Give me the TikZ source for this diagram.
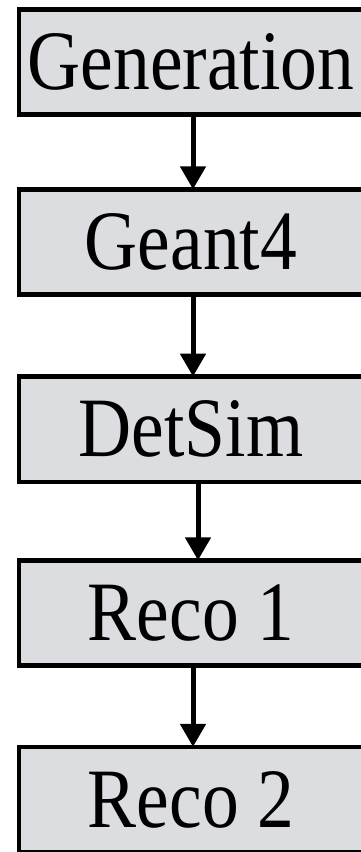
\documentclass[tikz,border=0pt]{standalone}
\usepackage{fontspec}
\setmainfont{Liberation Serif}
\usetikzlibrary{arrows.meta}
\definecolor{boxgray}{RGB}{220,221,224}
\tikzset{
  stagebox/.style={fill=boxgray, minimum width=356pt, minimum height=105pt,
    inner sep=0pt, font=\fontsize{73.5}{73.5}\selectfont},
  flowarrow/.style={line width=5pt, -{Triangle[width=25pt,length=23pt]}}
}
% label text, stretched vertically and moved a little left of the box centre
\newcommand{\stagelabel}[1]{\hspace*{-6pt}\scalebox{1}[1.15]{#1}\hspace*{6pt}}
\begin{document}
\begin{tikzpicture}[x=1pt, y=-1pt]
  \fill[white] (0,0) rectangle (361,852);
  \useasboundingbox (0,0) rectangle (361,852);
  \begin{scope}
    \clip (0,0) rectangle (361,852);
    \node[stagebox] (gen)   at (197,62)     {\stagelabel{Generation}};
    \node[stagebox] (g4)    at (197,242)    {\stagelabel{Geant4}};
    \node[stagebox] (det)   at (197,429.25) {\stagelabel{DetSim}};
    \node[stagebox] (reco1) at (197,613)    {\stagelabel{Reco 1}};
    \node[stagebox] (reco2) at (197,799.5)  {\stagelabel{Reco 2}};
    % box outlines: left, top and bottom edges; the right edge lies off the page
    \foreach \b in {gen,g4,det,reco1,reco2}
      \draw[line width=4.5pt] (\b.north east) -- (\b.north west)
        -- (\b.south west) -- (\b.south east);
  \end{scope}
  \draw[flowarrow] ([xshift=-4pt]gen.south)   -- ([xshift=-4pt]g4.north);
  \draw[flowarrow] ([xshift=-4pt]g4.south)    -- ([xshift=-4pt]det.north);
  \draw[flowarrow] ([xshift=1pt]det.south)    -- ([xshift=1pt]reco1.north);
  \draw[flowarrow] ([xshift=-4pt]reco1.south) -- ([xshift=-4pt]reco2.north);
\end{tikzpicture}
\end{document}
